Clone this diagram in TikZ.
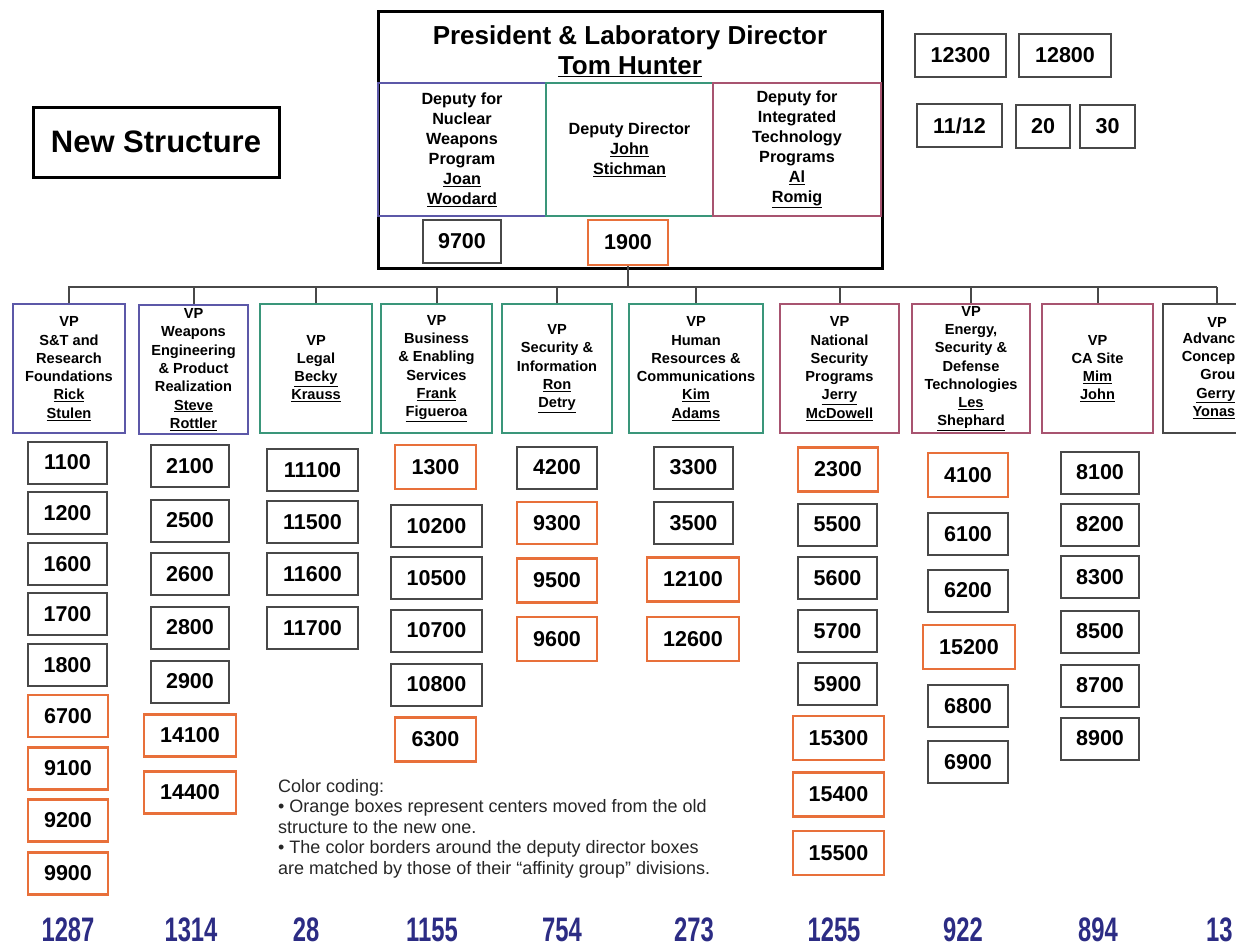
\documentclass[tikz,border=0pt]{standalone}
\usepackage{fontspec}
\setmainfont{Liberation Sans}
\usepackage{graphicx}
\definecolor{bluebd}{RGB}{92,88,168}
\definecolor{greenbd}{RGB}{58,150,122}
\definecolor{pinkbd}{RGB}{168,84,112}
\definecolor{orangebd}{RGB}{232,112,58}
\definecolor{graybd}{RGB}{72,72,72}
\definecolor{navynum}{RGB}{44,44,132}
\begin{document}
\begin{tikzpicture}[x=1pt,y=-1pt,
  numbox/.style={draw=graybd, line width=2pt, fill=white, inner sep=0pt, minimum height=42pt,
     font=\fontsize{21.5}{24}\selectfont\bfseries},
  orbox/.style={numbox, draw=orangebd, line width=2.4pt},
  vpbox/.style={draw, line width=1.8pt, inner sep=0pt, minimum height=129pt, align=center,
     font=\fontsize{14.6}{18.3}\selectfont\bfseries},
  vptext/.style={inner sep=0pt, font=\fontsize{14.6}{18.3}\selectfont\bfseries},
  depbox/.style={draw, line width=1.4pt, inner sep=0pt, minimum height=133pt, align=center,
     font=\fontsize{16.2}{20}\selectfont\bfseries},
  conn/.style={draw=graybd, line width=2pt},
  botnum/.style={text=navynum, inner sep=0pt, font=\fontsize{34}{34}\selectfont\bfseries}
]
\useasboundingbox (0,0) rectangle (1236,950);
\clip (0,0) rectangle (1236,950);

% ---------- top director box ----------
\node[draw, line width=3pt, inner sep=0pt, minimum width=504pt, minimum height=256pt] (top) at (630,140) {};
\node[font=\fontsize{26}{30}\selectfont\bfseries, align=center, inner sep=0pt] (pres) at (630,51)
  {President \& Laboratory Director\\\underline{Tom Hunter}};
\node[depbox, draw=bluebd, minimum width=168pt] (dep1) at (462,149.5)
  {Deputy for\\Nuclear\\Weapons\\Program\\\underline{Joan}\\\underline{Woodard}};
\node[depbox, draw=greenbd, minimum width=167pt] (dep2) at (629.5,149.5)
  {Deputy Director\\\underline{John}\\\underline{Stichman}};
\node[depbox, draw=pinkbd, minimum width=168pt] (dep3) at (797,149.5)
  {Deputy for\\Integrated\\Technology\\Programs\\\underline{Al}\\\underline{Romig}};
\node[numbox, minimum width=78pt, minimum height=43pt] (b9700) at (462,241.5) {9700};
\node[orbox, minimum width=80pt, minimum height=45pt] (b1900) at (628,242.5) {1900};

% ---------- New Structure ----------
\node[draw, line width=3pt, inner sep=0pt, minimum width=246pt, minimum height=70pt,
  font=\fontsize{31}{34}\selectfont\bfseries] (newst) at (156,142) {New Structure};

% ---------- top right boxes ----------
\node[numbox, minimum width=91pt, minimum height=43pt] (b12300) at (960.5,55.5) {12300};
\node[numbox, minimum width=92pt, minimum height=43pt] (b12800) at (1065,55.5) {12800};
\node[numbox, minimum width=85pt, minimum height=43pt] (b1112) at (959.5,125.5) {11/12};
\node[numbox, minimum width=54pt, minimum height=43pt] (b20) at (1043,126.5) {20};
\node[numbox, minimum width=55pt, minimum height=43pt] (b30) at (1107.5,126.5) {30};

% ---------- VP boxes ----------
\node[vpbox, draw=bluebd, minimum width=112pt] (vp1) at (69,368.5)
  {VP\\S\&T and\\Research\\Foundations\\\underline{Rick}\\\underline{Stulen}};
\node[vpbox, draw=bluebd, minimum width=109pt] (vp2) at (193.5,369.5)
  {VP\\Weapons\\Engineering\\\& Product\\Realization\\\underline{Steve}\\\underline{Rottler}};
\node[vpbox, draw=greenbd, minimum width=112pt] (vp3) at (316,368.5)
  {VP\\Legal\\\underline{Becky}\\\underline{Krauss}};
\node[vpbox, draw=greenbd, minimum width=111pt] (vp4) at (436.5,368.5)
  {VP\\Business\\\& Enabling\\Services\\\underline{Frank}\\\underline{Figueroa}};
\node[vpbox, draw=greenbd, minimum width=110pt] (vp5) at (557,368.5)
  {VP\\Security \&\\Information\\\underline{Ron}\\\underline{Detry}};
\node[vpbox, draw=greenbd, minimum width=134pt] (vp6) at (696,368.5)
  {VP\\Human\\Resources \&\\Communications\\\underline{Kim}\\\underline{Adams}};
\node[vpbox, draw=pinkbd, minimum width=119pt] (vp7) at (839.5,368.5)
  {VP\\National\\Security\\Programs\\\underline{Jerry}\\\underline{McDowell}};
\node[vpbox, draw=pinkbd, minimum width=118pt] (vp8) at (971,368.5)
  {VP\\Energy,\\Security \&\\Defense\\Technologies\\\underline{Les}\\\underline{Shephard}};
\node[vpbox, draw=pinkbd, minimum width=111pt] (vp9) at (1097.5,368.5)
  {VP\\CA Site\\\underline{Mim}\\\underline{John}};
\node[vpbox, draw=graybd, minimum width=108pt] (vp10) at (1217,368.5) {};
\node[vptext] (vp10a) at (1217,322.5) {VP};
\node[vptext, anchor=north east, align=right] (vp10b) at (1235.5,332.5)
  {Advanc\\Concep\\Grou\\\underline{Gerry}\\\underline{Yonas}};

% ---------- connectors ----------
\coordinate (busL) at (68,287);
\coordinate (busR) at (1217,287);
\draw[conn] (busL) -- (busR);
\draw[conn] (b1900.south) -- (b1900.south |- busL);
\foreach \v in {vp1,vp2,vp3,vp4,vp5,vp6,vp7,vp8,vp9,vp10}
  \draw[conn] (\v.north) -- (\v.north |- busL);

% ---------- column 1 ----------
\node[numbox, minimum width=79pt] (c1a) at (67.5,462.5) {1100};
\node[numbox, minimum width=79pt] (c1b) at (67.5,513) {1200};
\node[numbox, minimum width=79pt] (c1c) at (67.5,564) {1600};
\node[numbox, minimum width=79pt] (c1d) at (67.5,614) {1700};
\node[numbox, minimum width=79pt] (c1e) at (67.5,665) {1800};
\node[orbox, minimum width=80pt] (c1f) at (68,716) {6700};
\node[orbox, minimum width=80pt] (c1g) at (68,768.5) {9100};
\node[orbox, minimum width=80pt] (c1h) at (68,820.5) {9200};
\node[orbox, minimum width=80pt] (c1i) at (68,873.5) {9900};
% ---------- column 2 ----------
\node[numbox, minimum width=78pt] (c2a) at (190,466) {2100};
\node[numbox, minimum width=78pt] (c2b) at (190,520.5) {2500};
\node[numbox, minimum width=78pt] (c2c) at (190,574) {2600};
\node[numbox, minimum width=78pt] (c2d) at (190,627.5) {2800};
\node[numbox, minimum width=78pt] (c2e) at (190,681.5) {2900};
\node[orbox, minimum width=92pt] (c2f) at (190,735.5) {14100};
\node[orbox, minimum width=92pt] (c2g) at (190,792.5) {14400};
% ---------- column 3 ----------
\node[numbox, minimum width=91pt] (c3a) at (312.5,470) {11100};
\node[numbox, minimum width=91pt] (c3b) at (312.5,522) {11500};
\node[numbox, minimum width=91pt] (c3c) at (312.5,574) {11600};
\node[numbox, minimum width=91pt] (c3d) at (312.5,628) {11700};
% ---------- column 4 ----------
\node[orbox, minimum width=81pt, minimum height=44pt] (c4a) at (435.5,467) {1300};
\node[numbox, minimum width=91pt] (c4b) at (436.5,526) {10200};
\node[numbox, minimum width=91pt] (c4c) at (436.5,578) {10500};
\node[numbox, minimum width=91pt] (c4d) at (436.5,630.5) {10700};
\node[numbox, minimum width=91pt] (c4e) at (436.5,684.5) {10800};
\node[orbox, minimum width=81pt, minimum height=44pt] (c4f) at (435.5,739.5) {6300};
% ---------- column 5 ----------
\node[numbox, minimum width=80pt] (c5a) at (557,467.5) {4200};
\node[orbox, minimum width=80pt] (c5b) at (557,523) {9300};
\node[orbox, minimum width=80pt, minimum height=44pt] (c5c) at (557,580.5) {9500};
\node[orbox, minimum width=80pt, minimum height=44pt] (c5d) at (557,639) {9600};
% ---------- column 6 ----------
\node[numbox, minimum width=79pt] (c6a) at (693.5,467.5) {3300};
\node[numbox, minimum width=79pt] (c6b) at (693.5,523) {3500};
\node[orbox, minimum width=92pt, minimum height=44pt] (c6c) at (693,579.5) {12100};
\node[orbox, minimum width=92pt, minimum height=44pt] (c6d) at (693,639) {12600};
% ---------- column 7 ----------
\node[orbox, minimum width=80pt, minimum height=44pt] (c7a) at (838,469.5) {2300};
\node[numbox, minimum width=79pt] (c7b) at (837.5,524.5) {5500};
\node[numbox, minimum width=79pt] (c7c) at (837.5,578) {5600};
\node[numbox, minimum width=79pt] (c7d) at (837.5,631) {5700};
\node[numbox, minimum width=79pt] (c7e) at (837.5,684) {5900};
\node[orbox, minimum width=91pt, minimum height=44pt] (c7f) at (838.5,738) {15300};
\node[orbox, minimum width=91pt, minimum height=44pt] (c7g) at (838.5,794.5) {15400};
\node[orbox, minimum width=91pt, minimum height=44pt] (c7h) at (838.5,853) {15500};
% ---------- column 8 ----------
\node[orbox, minimum width=80pt, minimum height=44pt] (c8a) at (968,475) {4100};
\node[numbox, minimum width=80pt] (c8b) at (968,534) {6100};
\node[numbox, minimum width=80pt] (c8c) at (968,590.5) {6200};
\node[orbox, minimum width=92pt, minimum height=44pt] (c8d) at (969,647) {15200};
\node[numbox, minimum width=80pt] (c8e) at (968,706) {6800};
\node[numbox, minimum width=80pt] (c8f) at (968,762) {6900};
% ---------- column 9 ----------
\node[numbox, minimum width=78pt] (c9a) at (1100,472.5) {8100};
\node[numbox, minimum width=78pt] (c9b) at (1100,524.5) {8200};
\node[numbox, minimum width=78pt] (c9c) at (1100,577) {8300};
\node[numbox, minimum width=78pt] (c9d) at (1100,631.5) {8500};
\node[numbox, minimum width=78pt] (c9e) at (1100,685.5) {8700};
\node[numbox, minimum width=78pt] (c9f) at (1100,738.5) {8900};

% ---------- color coding note ----------
\node[anchor=north west, align=left, inner sep=0pt, text=black!85,
  font=\fontsize{18}{20.5}\selectfont] (note) at (278,779)
  {Color coding:\\
   • Orange boxes represent centers moved from the old\\
   structure to the new one.\\
   • The color borders around the deputy director boxes\\
   are matched by those of their “affinity group” divisions.};

% ---------- head counts ----------
\node[botnum] (n1) at (68,930) {\scalebox{0.7}[1]{1287}};
\node[botnum] (n2) at (191,930) {\scalebox{0.7}[1]{1314}};
\node[botnum] (n3) at (306,930) {\scalebox{0.7}[1]{28}};
\node[botnum] (n4) at (432,930) {\scalebox{0.7}[1]{1155}};
\node[botnum] (n5) at (562,930) {\scalebox{0.7}[1]{754}};
\node[botnum] (n6) at (694,930) {\scalebox{0.7}[1]{273}};
\node[botnum] (n7) at (834,930) {\scalebox{0.7}[1]{1255}};
\node[botnum] (n8) at (963,930) {\scalebox{0.7}[1]{922}};
\node[botnum] (n9) at (1098,930) {\scalebox{0.7}[1]{894}};
\node[botnum, anchor=west] (n10) at (1206,930) {\scalebox{0.7}[1]{13}};
\end{tikzpicture}
\end{document}
